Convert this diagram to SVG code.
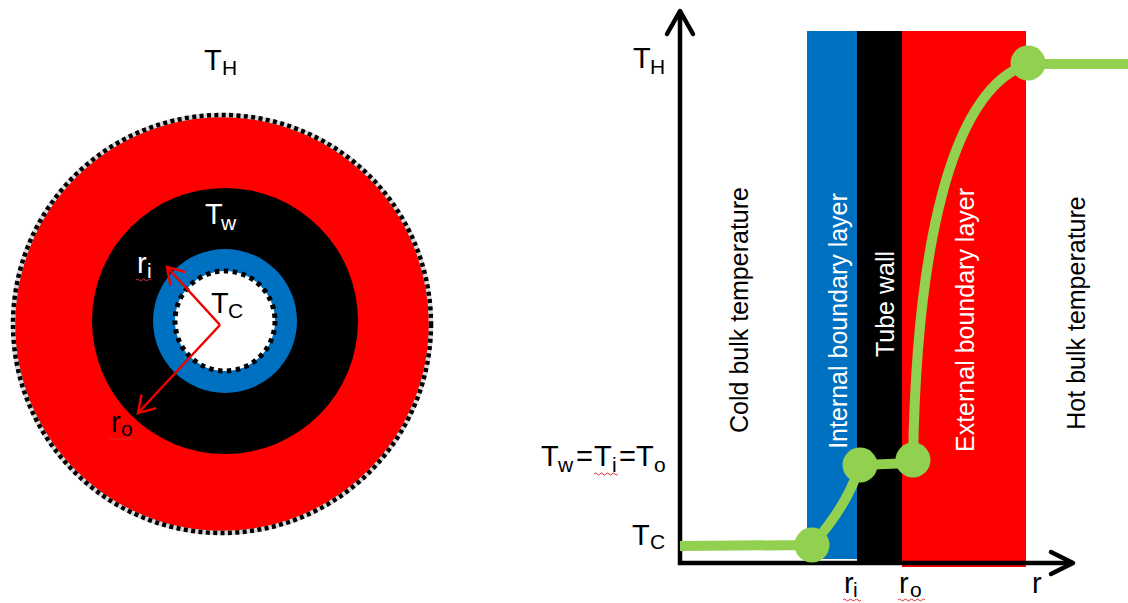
<svg xmlns="http://www.w3.org/2000/svg" width="1128" height="603" viewBox="0 0 1128 603">
<defs>
<style>
text{font-family:"Liberation Sans",Arial,sans-serif;}
.lbl{font-size:29px;fill:#000;}
.sub{font-size:21px;}
.w{fill:#fff;}
.rot{font-size:25px;}
.squig{fill:none;stroke:#e03030;stroke-width:1;}
.axis{fill:none;stroke:#000;stroke-width:4.5;}
.ahead{fill:none;stroke:#000;stroke-width:4.5;stroke-linecap:round;stroke-linejoin:round;}
.radius{fill:none;stroke:#f00000;stroke-width:2.5;}
.curve{fill:none;stroke:#92d050;stroke-width:10;}
.dot{fill:#92d050;}
</style>
<marker id="redhead" markerUnits="userSpaceOnUse" markerWidth="30" markerHeight="30" refX="20" refY="12" orient="auto">
<path d="M4,2 L20,12 L4,22" fill="none" stroke="#f00000" stroke-width="2.5"/>
</marker>
</defs>
<rect width="1128" height="603" fill="#fff"/>

<g id="cross-section">
<circle id="outer-layer" cx="222" cy="324" r="209" fill="#ff0000"/>
<circle cx="222" cy="324" r="209" fill="none" stroke="#d8d8d8" stroke-width="4.5"/>
<circle cx="222" cy="324" r="209" fill="none" stroke="#000" stroke-width="4.5" stroke-dasharray="4 3.4"/>
<circle id="tube-wall" cx="225" cy="321" r="133" fill="#000"/>
<circle id="inner-layer" cx="225" cy="321" r="72" fill="#0070c0"/>
<circle id="cold-core" cx="225" cy="321" r="50" fill="#fff"/>
<circle cx="225" cy="321" r="50" fill="none" stroke="#000" stroke-width="5" stroke-dasharray="4.5 4.5"/>
</g>

<g id="label-TH-left"><text class="lbl" x="204" y="70">T<tspan class="sub" x="222" y="75">H</tspan></text></g>
<g id="label-Tw-left"><text class="lbl w" x="205" y="224">T<tspan class="sub" x="221" y="230">w</tspan></text></g>
<g id="label-Tc-left"><text class="lbl" x="211" y="313">T<tspan class="sub" x="228" y="318">C</tspan></text></g>
<g id="label-ri-left"><text class="lbl w" x="137" y="273">r<tspan class="sub" x="147" y="278">i</tspan></text>
<path class="squig" d="M136,280 q1.5,-2 3,0 t3,0 t3,0 t3,0 t3,0"/></g>
<g id="label-ro-left"><text class="lbl" x="111" y="432">r<tspan class="sub" x="121" y="436">o</tspan></text>
<path class="squig" d="M109,439 q1.5,-2 3,0 t3,0 t3,0 t3,0 t3,0 t3,0 t3,0 t3,0"/></g>

<g id="bands">
<rect id="band-internal" x="807" y="31" width="50" height="528" fill="#0070c0"/>
<rect id="band-wall" x="857" y="31" width="45" height="532" fill="#000"/>
<rect id="band-external" x="902" y="31" width="124" height="536" fill="#ff0000"/>
</g>

<g id="band-labels">
<text class="rot" transform="translate(748,310) rotate(-90)" text-anchor="middle">Cold bulk temperature</text>
<text class="rot w" transform="translate(847,321) rotate(-90)" text-anchor="middle">Internal boundary layer</text>
<text class="rot w" transform="translate(894,304) rotate(-90)" text-anchor="middle">Tube wall</text>
<text class="rot w" transform="translate(974,320) rotate(-90)" text-anchor="middle">External boundary layer</text>
<text class="rot" transform="translate(1085,313) rotate(-90)" text-anchor="middle">Hot bulk temperature</text>
</g>

<g id="connectors">
<path class="radius" d="M220,325 L167,267" marker-end="url(#redhead)"/>
<path class="radius" d="M220,325 L138,413" marker-end="url(#redhead)"/>
<path class="axis" d="M680,12 L680,563 L1072,563"/>
<path class="ahead" d="M667,34 L680,11 L693,34"/>
<path class="ahead" d="M1051,552 L1073,563 L1051,574"/>
</g>

<g id="temperature-profile">
<path class="curve" d="M680,546 L812,545 Q848,505 860,465 L913,463 C916,250 950,90 1028,64 L1128,64"/>
<circle class="dot" cx="812" cy="545" r="17.5"/>
<circle class="dot" cx="860" cy="465" r="17.5"/>
<circle class="dot" cx="913" cy="460" r="17.5"/>
<circle class="dot" cx="1028" cy="63" r="17.5"/>
</g>

<g id="label-TH-right"><text class="lbl" x="633" y="68">T<tspan class="sub" x="650" y="74">H</tspan></text></g>
<g id="label-Twio"><text class="lbl" x="541" y="466">T<tspan class="sub" x="558" y="472">w</tspan><tspan x="576" y="466">=</tspan><tspan x="594" y="466">T</tspan><tspan class="sub" x="612" y="472">i</tspan><tspan x="619" y="466">=</tspan><tspan x="636" y="466">T</tspan><tspan class="sub" x="654" y="472">o</tspan></text>
<path class="squig" d="M594,474 q1.5,-2 3,0 t3,0 t3,0 t3,0 t3,0 t3,0 t3,0 t3,0"/></g>
<g id="label-Tc-right"><text class="lbl" x="632" y="545">T<tspan class="sub" x="650" y="549">C</tspan></text></g>
<g id="label-ri-axis"><text class="lbl" x="844" y="593">r<tspan class="sub" x="853" y="597">i</tspan></text>
<path class="squig" d="M843,600 q1.5,-2 3,0 t3,0 t3,0 t3,0 t3,0 t3,0"/></g>
<g id="label-ro-axis"><text class="lbl" x="899" y="593">r<tspan class="sub" x="910" y="597">o</tspan></text>
<path class="squig" d="M898,600 q1.5,-2 3,0 t3,0 t3,0 t3,0 t3,0 t3,0 t3,0 t3,0 t3,0"/></g>
<g id="label-r-axis"><text class="lbl" x="1032" y="593">r</text></g>
</svg>
